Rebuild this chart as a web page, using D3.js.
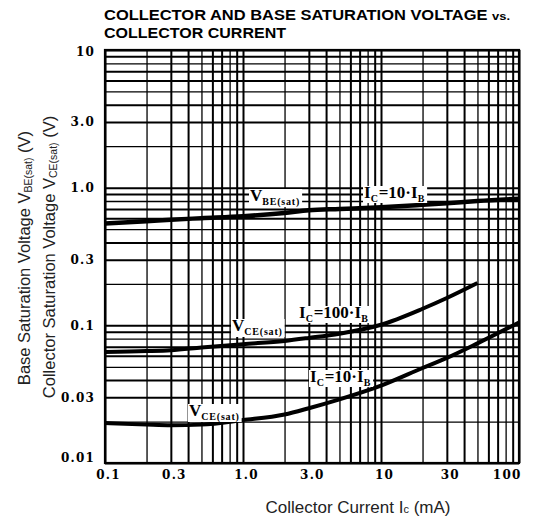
<!DOCTYPE html>
<html>
<head>
<meta charset="utf-8">
<script src="https://cdn.jsdelivr.net/npm/d3@7"></script>
<style>
  body { margin: 0; background: #fff; }
  svg { display: block; }
  .tick line { stroke: #000; }
  .domain { display: none; }
</style>
</head>
<body>
<script>
// values (Ic in mA, voltage in V)
const icBE = [0.1, 0.2, 0.3, 0.5, 1, 2, 3, 5, 10, 20, 30, 50, 100];
const vBE = [0.55, 0.57, 0.585, 0.60, 0.62, 0.655, 0.685, 0.70, 0.72, 0.75, 0.77, 0.80, 0.83];

const icCE100 = [0.1, 0.2, 0.3, 0.5, 1, 2, 3, 5, 10, 20, 30, 50];
const vCE100 = [0.064, 0.065, 0.066, 0.069, 0.073, 0.077, 0.081, 0.087, 0.101, 0.132, 0.158, 0.203];

const icCE10 = [0.1, 0.2, 0.3, 0.5, 1, 2, 3, 5, 10, 20, 30, 50, 100];
const vCE10 = [0.0195, 0.019, 0.0188, 0.019, 0.0205, 0.0225, 0.025, 0.029, 0.0365, 0.049, 0.058, 0.074, 0.105];

const xTicks = [0.1, 0.3, 1, 3, 10, 30, 100];
const xTickLabels = ["0.1", "0.3", "1.0", "3.0", "10", "30", "100"];
const yTicks = [0.01, 0.03, 0.1, 0.3, 1, 3, 10];
const yTickLabels = ["0.01", "0.03", "0.1", "0.3", "1.0", "3.0", "10"];

const W = 534, H = 523;
const plotL = 105, plotR = 519, plotT = 50, plotB = 463;

const svg = d3.select('body').append('svg')
  .attr('width', W).attr('height', H);

const x = d3.scaleLog().domain([0.1, 100]).range([plotL, plotR]);
const y = d3.scaleLog().domain([0.01, 10]).range([plotB, plotT]);

// grid (all 1..9 lines per decade)
const xGridVals = x.ticks();
const yGridVals = y.ticks();

svg.append('g')
  .attr('transform', `translate(0,${plotB})`)
  .call(d3.axisBottom(x).tickValues(xGridVals).tickSize(-(plotB - plotT)).tickFormat(''))
  .selectAll('.tick line')
  .attr('stroke-width', (d, i) => (i % 3 === 1) ? 1.3 : 2);

svg.append('g')
  .attr('transform', `translate(${plotL},0)`)
  .call(d3.axisLeft(y).tickValues(yGridVals).tickSize(-(plotR - plotL)).tickFormat(''))
  .selectAll('.tick line')
  .attr('stroke-width', (d, i) => (i % 3 === 1) ? 1.3 : 2);

svg.append('rect')
  .attr('x', plotL).attr('y', plotT)
  .attr('width', plotR - plotL).attr('height', plotB - plotT)
  .attr('fill', 'none').attr('stroke', '#000').attr('stroke-width', 2.2);

// tick labels
const tickFont = "'DejaVu Serif', 'Liberation Serif', serif";

const xAxis = svg.append('g')
  .attr('transform', `translate(0,${plotB})`)
  .call(d3.axisBottom(x).tickValues(xTicks).tickSize(0).tickPadding(7)
    .tickFormat((d, i) => xTickLabels[i]));
xAxis.selectAll('text')
  .attr('font-family', tickFont).attr('font-weight', 'bold')
  .attr('font-size', 12).attr('letter-spacing', 1.2).attr('fill', '#000')
  .attr('text-anchor', (d, i) => i === xTicks.length - 1 ? 'end' : 'middle')
  .attr('dx', (d, i) => i === xTicks.length - 1 ? 2 : 3);

const yAxis = svg.append('g')
  .attr('transform', `translate(${plotL},0)`)
  .call(d3.axisLeft(y).tickValues(yTicks).tickSize(0).tickPadding(10)
    .tickFormat((d, i) => yTickLabels[i]));
yAxis.selectAll('text')
  .attr('font-family', tickFont).attr('font-weight', 'bold')
  .attr('font-size', 12).attr('letter-spacing', 1.2).attr('fill', '#000')
  .attr('dy', (d, i) => i === 0 ? '-0.1em' : (i === yTicks.length - 1 ? '0.45em' : '0.32em'));

// curves
const line = d3.line()
  .x(d => x(d[0])).y(d => y(d[1]))
  .curve(d3.curveMonotoneX);

const curves = [
  { ic: icBE, v: vBE, w: 4.5 },
  { ic: icCE100, v: vCE100, w: 4 },
  { ic: icCE10, v: vCE10, w: 4 }
];

svg.append('clipPath').attr('id', 'plot')
  .append('rect').attr('x', plotL).attr('y', plotT)
  .attr('width', plotR - plotL).attr('height', plotB - plotT);

svg.append('g').attr('clip-path', 'url(#plot)')
  .selectAll('path')
  .data(curves)
  .join('path')
  .attr('d', c => line(c.ic.map((d, i) => [d, c.v[i]])))
  .attr('fill', 'none')
  .attr('stroke', '#000')
  .attr('stroke-width', c => c.w)
  .attr('stroke-linecap', 'butt');

// curve labels: parts of [text, isSub]
const labelFont = "'Liberation Serif', 'DejaVu Serif', serif";
const labels = [
  { px: 250, py: 201, parts: [['V', 0], ['BE(sat)', 1]] },
  { px: 364, py: 198, parts: [['I', 0], ['C', 1], ['=10·I', 0], ['B', 1]] },
  { px: 232, py: 331, parts: [['V', 0], ['CE(sat)', 1]] },
  { px: 299, py: 318, parts: [['I', 0], ['C', 1], ['=100·I', 0], ['B', 1]] },
  { px: 310, py: 382, parts: [['I', 0], ['C', 1], ['=10·I', 0], ['B', 1]] },
  { px: 189, py: 416, parts: [['V', 0], ['CE(sat)', 1]] }
];

const labelG = svg.append('g');
labels.forEach(l => {
  const g = labelG.append('g');
  const bg = g.append('rect').attr('fill', '#fff');
  const t = g.append('text')
    .attr('x', l.px).attr('y', l.py)
    .attr('font-family', labelFont).attr('font-weight', 'bold')
    .attr('font-size', 17).attr('fill', '#000');
  l.parts.forEach((p, i) => {
    const prevSub = i > 0 && l.parts[i - 1][1];
    const ts = t.append('tspan').text(p[0]);
    if (p[1]) ts.attr('font-size', 10).attr('dy', 4).attr('letter-spacing', 0.8);
    else if (prevSub) ts.attr('dy', -4);
  });
  const b = t.node().getBBox();
  bg.attr('x', b.x - 1).attr('y', b.y + 3).attr('width', b.width + 3).attr('height', b.height - 4);
});

// title
const titleFont = "'Liberation Sans', Arial, sans-serif";
svg.append('text')
  .attr('x', 104).attr('y', 20)
  .attr('font-family', titleFont).attr('font-weight', 'bold').attr('font-size', 14)
  .attr('textLength', 406).attr('lengthAdjust', 'spacingAndGlyphs')
  .text('COLLECTOR AND BASE SATURATION VOLTAGE ')
  .append('tspan').attr('font-size', 11).text('vs.');
svg.append('text')
  .attr('x', 104).attr('y', 38)
  .attr('font-family', titleFont).attr('font-weight', 'bold').attr('font-size', 14)
  .attr('textLength', 182).attr('lengthAdjust', 'spacingAndGlyphs')
  .text('COLLECTOR CURRENT');

// axis titles
const axFont = "'Liberation Sans', Arial, sans-serif";
const yt1 = svg.append('text')
  .attr('transform', 'translate(30,258) rotate(-90)')
  .attr('text-anchor', 'middle')
  .attr('font-family', axFont).attr('font-size', 16.5).attr('fill', '#222');
yt1.append('tspan').text('Base Saturation Voltage  V');
yt1.append('tspan').attr('font-size', 10.5).attr('dy', 2).text('BE(sat)');
yt1.append('tspan').attr('dy', -2).text(' (V)');

const yt2 = svg.append('text')
  .attr('transform', 'translate(55,257) rotate(-90)')
  .attr('text-anchor', 'middle')
  .attr('font-family', axFont).attr('font-size', 16.5).attr('fill', '#222');
yt2.append('tspan').text('Collector Saturation Voltage  V');
yt2.append('tspan').attr('font-size', 10.5).attr('dy', 2).text('CE(sat)');
yt2.append('tspan').attr('dy', -2).text(' (V)');

const xt = svg.append('text')
  .attr('x', 358).attr('y', 513)
  .attr('text-anchor', 'middle')
  .attr('font-family', axFont).attr('font-size', 17).attr('fill', '#222');
xt.append('tspan').text('Collector Current  I');
xt.append('tspan').attr('font-size', 11).text('c');
xt.append('tspan').text(' (mA)');
</script>
</body>
</html>
